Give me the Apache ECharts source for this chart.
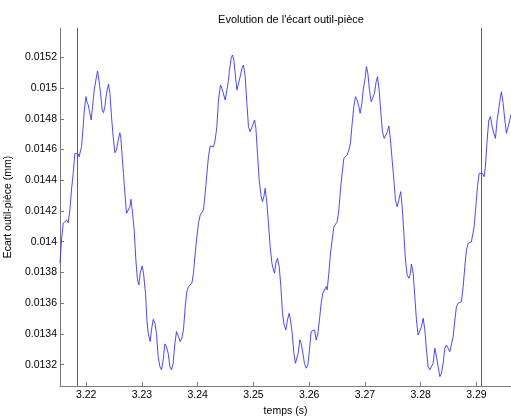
<!DOCTYPE html>
<html>
<head>
<meta charset="utf-8">
<script src="https://cdn.jsdelivr.net/npm/echarts@6/dist/echarts.min.js"></script>
<style>
  html, body { margin: 0; padding: 0; background: #fff; }
  #chart { width: 511px; height: 416px; }
</style>
</head>
<body>
<div id="chart"></div>
<script>
// Tool-to-workpiece gap over time
const temps = [
  3.21530, 3.21557, 3.21588, 3.21618, 3.21647, 3.21665, 3.21677, 3.21708, 3.21736, 3.21767,
  3.21797, 3.21826, 3.21857, 3.21875, 3.21887, 3.21916, 3.21946, 3.21964, 3.21995, 3.22013,
  3.22036, 3.22066, 3.22090, 3.22113, 3.22144, 3.22174, 3.22203, 3.22228, 3.22257, 3.22287,
  3.22310, 3.22335, 3.22364, 3.22400, 3.22425, 3.22454, 3.22484, 3.22515, 3.22543, 3.22574,
  3.22604, 3.22622, 3.22646, 3.22669, 3.22694, 3.22723, 3.22753, 3.22784, 3.22802, 3.22825,
  3.22861, 3.22891, 3.22920, 3.22945, 3.22969, 3.23004, 3.23028, 3.23064, 3.23089, 3.23112,
  3.23148, 3.23171, 3.23202, 3.23232, 3.23261, 3.23291, 3.23322, 3.23351, 3.23381, 3.23412,
  3.23440, 3.23471, 3.23501, 3.23530, 3.23560, 3.23591, 3.23620, 3.23655, 3.23686, 3.23716,
  3.23745, 3.23776, 3.23806, 3.23835, 3.23865, 3.23896, 3.23924, 3.23955, 3.23985, 3.24014,
  3.24045, 3.24075, 3.24104, 3.24134, 3.24165, 3.24193, 3.24224, 3.24254, 3.24283, 3.24314,
  3.24344, 3.24373, 3.24409, 3.24434, 3.24463, 3.24493, 3.24524, 3.24552, 3.24570, 3.24601,
  3.24624, 3.24649, 3.24672, 3.24703, 3.24732, 3.24762, 3.24793, 3.24821, 3.24852, 3.24882,
  3.24911, 3.24941, 3.24972, 3.25001, 3.25019, 3.25044, 3.25072, 3.25103, 3.25139, 3.25162,
  3.25187, 3.25210, 3.25241, 3.25270, 3.25300, 3.25331, 3.25359, 3.25377, 3.25402, 3.25431,
  3.25462, 3.25492, 3.25521, 3.25551, 3.25582, 3.25610, 3.25641, 3.25664, 3.25695, 3.25725,
  3.25754, 3.25772, 3.25802, 3.25833, 3.25856, 3.25887, 3.25915, 3.25946, 3.25976, 3.26005,
  3.26035, 3.26066, 3.26095, 3.26125, 3.26156, 3.26184, 3.26215, 3.26245, 3.26274, 3.26304,
  3.26322, 3.26353, 3.26382, 3.26412, 3.26443, 3.26471, 3.26502, 3.26532, 3.26561, 3.26591,
  3.26622, 3.26651, 3.26681, 3.26712, 3.26740, 3.26771, 3.26801, 3.26830, 3.26860, 3.26891,
  3.26914, 3.26945, 3.26968, 3.26999, 3.27027, 3.27052, 3.27081, 3.27112, 3.27142, 3.27171,
  3.27201, 3.27225, 3.27255, 3.27286, 3.27314, 3.27345, 3.27375, 3.27404, 3.27429, 3.27458,
  3.27488, 3.27519, 3.27547, 3.27578, 3.27608, 3.27641, 3.27668, 3.27698, 3.27727, 3.27757,
  3.27788, 3.27816, 3.27834, 3.27865, 3.27895, 3.27924, 3.27954, 3.27985, 3.28014, 3.28044,
  3.28075, 3.28103, 3.28134, 3.28164, 3.28193, 3.28223, 3.28254, 3.28283, 3.28313, 3.28344,
  3.28372, 3.28403, 3.28433, 3.28462, 3.28493, 3.28523, 3.28552, 3.28582, 3.28613, 3.28641,
  3.28672, 3.28702, 3.28731, 3.28762, 3.28792, 3.28821, 3.28851, 3.28882, 3.28910, 3.28936,
  3.28959, 3.28989, 3.29018, 3.29049, 3.29079, 3.29108, 3.29138, 3.29161, 3.29192, 3.29222,
  3.29251, 3.29282, 3.29312, 3.29341, 3.29371, 3.29402, 3.29431, 3.29448, 3.29479, 3.29509,
  3.29538, 3.29569, 3.29599, 3.29617
];

const ecart = [
  0.013860, 0.014011, 0.014120, 0.014130, 0.014141, 0.014153, 0.014124, 0.014207, 0.014337, 0.014445,
  0.014575, 0.014564, 0.014571, 0.014553, 0.014575, 0.014618, 0.014749, 0.014846, 0.014944, 0.014911,
  0.014890, 0.014879, 0.014792, 0.014879, 0.014987, 0.015052, 0.015111, 0.015052, 0.014966, 0.014857,
  0.014840, 0.014879, 0.014966, 0.015026, 0.014966, 0.014814, 0.014683, 0.014579, 0.014597, 0.014662,
  0.014709, 0.014673, 0.014553, 0.014445, 0.014315, 0.014185, 0.014174, 0.014228, 0.014276, 0.014207,
  0.014076, 0.013881, 0.013751, 0.013719, 0.013795, 0.013842, 0.013795, 0.013665, 0.013491, 0.013404,
  0.013350, 0.013426, 0.013495, 0.013469, 0.013404, 0.013252, 0.013187, 0.013166, 0.013231, 0.013335,
  0.013317, 0.013274, 0.013187, 0.013166, 0.013209, 0.013339, 0.013415, 0.013382, 0.013350, 0.013372,
  0.013426, 0.013577, 0.013675, 0.013708, 0.013719, 0.013730, 0.013795, 0.013925, 0.014033, 0.014120,
  0.014174, 0.014163, 0.014207, 0.014315, 0.014445, 0.014553, 0.014623, 0.014629, 0.014618, 0.014662,
  0.014749, 0.014922, 0.015020, 0.014998, 0.014987, 0.014922, 0.014987, 0.015052, 0.015117, 0.015194,
  0.015215, 0.015182, 0.015096, 0.014987, 0.014987, 0.015074, 0.015128, 0.015150, 0.015074, 0.014901,
  0.014749, 0.014716, 0.014716, 0.014771, 0.014792, 0.014738, 0.014575, 0.014402, 0.014293, 0.014261,
  0.014293, 0.014348, 0.014250, 0.014120, 0.013968, 0.013860, 0.013816, 0.013795, 0.013860, 0.013892,
  0.013838, 0.013708, 0.013534, 0.013458, 0.013426, 0.013491, 0.013534, 0.013491, 0.013404, 0.013274,
  0.013209, 0.013198, 0.013274, 0.013361, 0.013339, 0.013274, 0.013209, 0.013177, 0.013198, 0.013296,
  0.013415, 0.013404, 0.013426, 0.013361, 0.013404, 0.013491, 0.013600, 0.013665, 0.013686, 0.013708,
  0.013686, 0.013795, 0.013925, 0.014011, 0.014098, 0.014109, 0.014130, 0.014207, 0.014337, 0.014445,
  0.014543, 0.014553, 0.014564, 0.014597, 0.014641, 0.014771, 0.014879, 0.014944, 0.014922, 0.014879,
  0.014836, 0.014901, 0.014987, 0.015052, 0.015139, 0.015096, 0.014987, 0.014911, 0.014901, 0.014966,
  0.015041, 0.015074, 0.014987, 0.014836, 0.014716, 0.014673, 0.014683, 0.014716, 0.014753, 0.014662,
  0.014532, 0.014402, 0.014272, 0.014228, 0.014272, 0.014326, 0.014228, 0.014055, 0.013881, 0.013784,
  0.013762, 0.013795, 0.013855, 0.013795, 0.013642, 0.013491, 0.013393, 0.013382, 0.013447, 0.013502,
  0.013426, 0.013296, 0.013187, 0.013166, 0.013155, 0.013209, 0.013307, 0.013252, 0.013187, 0.013122,
  0.013144, 0.013209, 0.013307, 0.013328, 0.013322, 0.013285, 0.013296, 0.013382, 0.013491, 0.013577,
  0.013600, 0.013588, 0.013610, 0.013708, 0.013838, 0.013946, 0.013990, 0.014000, 0.014000, 0.014011,
  0.014098, 0.014228, 0.014358, 0.014445, 0.014441, 0.014445, 0.014423, 0.014488, 0.014662, 0.014792,
  0.014814, 0.014749, 0.014706, 0.014673, 0.014792, 0.014868, 0.014944, 0.014976, 0.014901, 0.014792,
  0.014706, 0.014706, 0.014792, 0.014825
];

// Axis ticks
const xTicks = [3.22, 3.23, 3.24, 3.25, 3.26, 3.27, 3.28, 3.29];
const yTicks = [0.0132, 0.0134, 0.0136, 0.0138, 0.014, 0.0142, 0.0144, 0.0146, 0.0148, 0.015, 0.0152];

// Visible ranges
const xRange = [3.21530, 3.29620];
const yRange = [0.013061, 0.015391];

// Reference instants marked by vertical lines
const repereTemps = [3.21844, 3.29090];

const font = '"Liberation Sans", Arial, Helvetica, sans-serif';
const axisColor = '#7a7a7a';

const chart = echarts.init(document.getElementById('chart'), null, { renderer: 'canvas' });

const points = temps.map((t, i) => [t, ecart[i]]);

chart.setOption({
  animation: false,
  backgroundColor: '#ffffff',
  title: {
    text: "Evolution de l'écart outil-pièce",
    left: 286,
    top: 9,
    textAlign: 'center',
    textStyle: { fontFamily: font, fontSize: 11, fontWeight: 'normal', color: '#000' }
  },
  grid: { left: 60, right: 0, top: 28, bottom: 30, containLabel: false, outerBoundsMode: 'none' },
  xAxis: {
    type: 'value',
    min: xRange[0],
    max: xRange[1],
    name: 'temps (s)',
    nameLocation: 'middle',
    nameGap: 18,
    nameTextStyle: { fontFamily: font, fontSize: 10.5, color: '#000', verticalAlign: 'top' },
    axisLine: { show: true, onZero: false, lineStyle: { color: axisColor, width: 1 } },
    axisTick: { show: true, inside: true, length: 4, customValues: xTicks, lineStyle: { color: axisColor } },
    axisLabel: {
      show: true, margin: 4, customValues: xTicks,
      fontFamily: font, fontSize: 10.5, color: '#000',
      formatter: v => String(+v.toFixed(2))
    },
    splitLine: { show: false }
  },
  yAxis: {
    type: 'value',
    min: yRange[0],
    max: yRange[1],
    name: 'Ecart outil-pièce (mm)',
    nameLocation: 'middle',
    nameGap: 40,
    nameRotate: 90,
    nameTextStyle: { fontFamily: font, fontSize: 10.5, color: '#000' },
    axisLine: { show: true, onZero: false, lineStyle: { color: axisColor, width: 1 } },
    axisTick: { show: true, inside: true, length: 4, customValues: yTicks, lineStyle: { color: axisColor } },
    axisLabel: {
      show: true, margin: 3, customValues: yTicks,
      fontFamily: font, fontSize: 10.5, color: '#000',
      formatter: v => String(+v.toFixed(4))
    },
    splitLine: { show: false }
  },
  series: [{
    type: 'line',
    data: points,
    showSymbol: false,
    symbol: 'none',
    smooth: false,
    lineStyle: { color: '#3535ff', width: 0.9 },
    markLine: {
      silent: true,
      precision: 6,
      symbol: ['none', 'none'],
      label: { show: false },
      lineStyle: { color: '#606060', width: 1, type: 'solid' },
      data: repereTemps.map(t => ({ xAxis: t }))
    }
  }]
});
</script>
</body>
</html>
